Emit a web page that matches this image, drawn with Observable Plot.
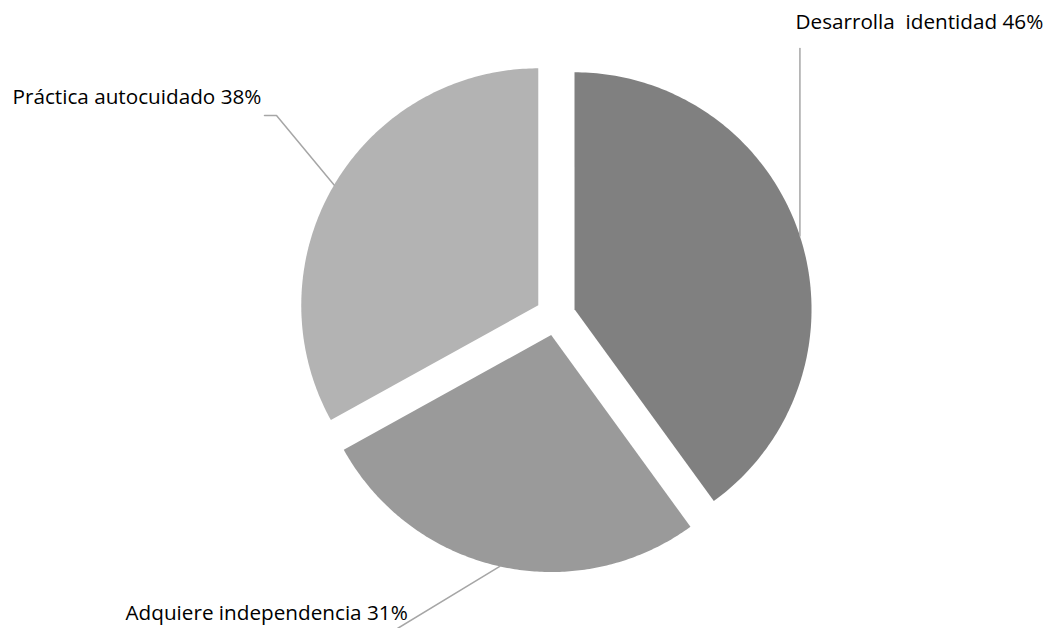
<!DOCTYPE html>
<html><head><meta charset="utf-8">
<script src="https://cdn.jsdelivr.net/npm/d3@7"></script>
<script src="https://cdn.jsdelivr.net/npm/@observablehq/plot@0.6"></script>
<style>body{margin:0;background:#fff} svg text{white-space:pre}</style>
</head><body><div id="chart"></div>
<script>
const categories = ["Desarrolla  identidad", "Adquiere independencia", "Práctica autocuidado"];
const values = [46, 31, 38];
const valueLabels = ["46%", "31%", "38%"];
const colors = ["#808080", "#9a9a9a", "#b3b3b3"];

const W = 1049, H = 628, CX = 555, CY = 315, R = 237, EXPLODE = 20 / 237;
const px = x => (x - CX) / R, py = y => (CY - y) / R;
const total = d3.sum(values);
let acc = 0;
const slices = categories.map((c, i) => {
  const a0 = acc / total * 2 * Math.PI; acc += values[i];
  const a1 = acc / total * 2 * Math.PI; const mid = (a0 + a1) / 2;
  return {c, i, a0, a1, mid, ox: EXPLODE * Math.sin(mid), oy: EXPLODE * Math.cos(mid)};
});
const pts = [];
for (const s of slices) {
  pts.push({c: s.c, x: s.ox, y: s.oy});
  const n = 160;
  for (let k = 0; k <= n; k++) {
    const a = s.a0 + (s.a1 - s.a0) * k / n;
    pts.push({c: s.c, x: s.ox + Math.sin(a), y: s.oy + Math.cos(a)});
  }
  pts.push({c: s.c, x: s.ox, y: s.oy});
}
// label layout (pixel positions of text and leader elbows)
const layout = [
  {text: [795, 22], way: s => [[null, 48]]},
  {text: [125, 613], way: s => [[397, 628]]},
  {text: [12, 97], way: s => [[276, 115], [264, 115]]}
];
const leaders = [], texts = [];
slices.forEach((s, i) => {
  const sx = s.ox + Math.sin(s.mid), sy = s.oy + Math.cos(s.mid);
  leaders.push({c: s.c, x: sx, y: sy});
  for (const [wx, wy] of layout[i].way(s)) {
    leaders.push({c: s.c, x: wx === null ? sx : px(wx), y: py(wy)});
  }
  texts.push({label: categories[i] + " " + valueLabels[i], x: px(layout[i].text[0]), y: py(layout[i].text[1])});
});

const chart = Plot.plot({
  width: W, height: H, margin: 0,
  x: {domain: [px(0), px(W)], axis: null},
  y: {domain: [py(H), py(0)], axis: null},
  color: {domain: categories, range: colors},
  style: {background: "#fff"},
  marks: [
    Plot.line(pts, {x: "x", y: "y", z: "c", fill: "c", stroke: "none"}),
    Plot.line(leaders, {x: "x", y: "y", z: "c", stroke: "#a6a6a6", strokeWidth: 1.5}),
    Plot.text(texts, {x: "x", y: "y", text: "label", textAnchor: "start", lineAnchor: "middle", fontSize: 20.7, fontFamily: "Open Sans", fill: "#000"})
  ]
});
document.getElementById("chart").appendChild(chart);
</script></body></html>
